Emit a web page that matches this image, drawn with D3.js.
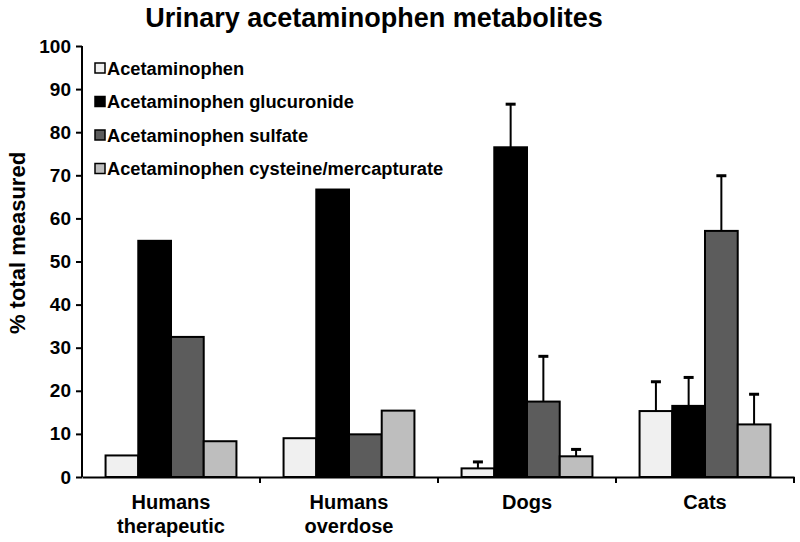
<!DOCTYPE html>
<html><head><meta charset="utf-8">
<script src="https://cdn.jsdelivr.net/npm/d3@7"></script>
<style>body{margin:0;background:#fff}svg{display:block}text{font-family:"Liberation Sans",Arial,sans-serif;font-weight:bold}</style>
</head><body><svg id="c" width="800" height="542"></svg>
<script>
const categories = [["Humans","therapeutic"],["Humans","overdose"],["Dogs"],["Cats"]];
const seriesNames = ["Acetaminophen","Acetaminophen glucuronide","Acetaminophen sulfate","Acetaminophen cysteine/mercapturate"];
const seriesColors = ["#f0f0f0","#000000","#5c5c5c","#bebebe"];
const acetaminophen = [5, 9, 2, 15.3];
const glucuronide = [54.8, 66.7, 76.5, 16.5];
const sulfate = [32.5, 9.9, 17.5, 57.1];
const cysteine = [8.3, 15.4, 4.8, 12.2];
const errAcetaminophen = [null, null, 1.5, 6.8];
const errGlucuronide = [null, null, 10, 6.6];
const errSulfate = [null, null, 10.5, 12.8];
const errCysteine = [null, null, 1.6, 7];
const yTicks = [0,10,20,30,40,50,60,70,80,90,100];

(function(){
const values = [acetaminophen, glucuronide, sulfate, cysteine];
const errors = [errAcetaminophen, errGlucuronide, errSulfate, errCysteine];
const catKeys = categories.map(c => c.join(" "));

const svg = d3.select("#c");
const mLeft = 82, mRight = 794, mTop = 46, mBottom = 477;
const x0 = d3.scaleBand().domain(catKeys).range([mLeft, mRight]).paddingInner(0).paddingOuter(0);
const x1 = d3.scaleBand().domain(seriesNames).range([0, x0.bandwidth()]).paddingInner(0).paddingOuter(0.72);
const y = d3.scaleLinear().domain([0,100]).range([mBottom, mTop]);

svg.append("text").attr("x", 374).attr("y", 27).attr("text-anchor","middle")
  .style("font-size","27px").text("Urinary acetaminophen metabolites");

svg.append("text").attr("transform","translate(25,243) rotate(-90)").attr("text-anchor","middle")
  .style("font-size","22px").text("% total measured");

// y axis
const ya = svg.append("g").attr("transform",`translate(${mLeft},0)`)
  .call(d3.axisLeft(y).tickValues(yTicks).tickSize(6).tickPadding(5));
ya.select(".domain").attr("stroke","#000").attr("stroke-width",2).attr("d",`M0,${mTop}V${mBottom}`);
ya.selectAll(".tick line").attr("stroke","#000").attr("stroke-width",2);
ya.selectAll(".tick text").style("font-size","19px").style("font-family","Liberation Sans, Arial, sans-serif").style("font-weight","bold").attr("fill","#000");

// bars
const groups = svg.append("g").selectAll("g").data(catKeys).join("g")
  .attr("transform", d => `translate(${x0(d)},0)`);
seriesNames.forEach((s, si) => {
  groups.append("rect")
    .attr("x", x1(s)).attr("width", x1.bandwidth())
    .attr("y", (d,i) => y(values[si][i])).attr("height", (d,i) => y(0) - y(values[si][i]))
    .attr("fill", seriesColors[si]).attr("stroke","#000").attr("stroke-width",2);
  groups.each(function(d,i){
    const e = errors[si][i];
    if (e == null) return;
    const cx = x1(s) + x1.bandwidth()/2;
    const g = d3.select(this);
    g.append("line").attr("x1",cx).attr("x2",cx).attr("y1",y(values[si][i])).attr("y2",y(values[si][i]+e))
      .attr("stroke","#000").attr("stroke-width",2);
    g.append("line").attr("x1",cx-5).attr("x2",cx+5).attr("y1",y(values[si][i]+e)).attr("y2",y(values[si][i]+e))
      .attr("stroke","#000").attr("stroke-width",3);
  });
});

// x axis
const xa = svg.append("g").attr("transform",`translate(0,${mBottom})`)
  .call(d3.axisBottom(x0).tickSize(0).tickFormat(""));
xa.select(".domain").attr("stroke","#000").attr("stroke-width",2);
svg.append("g").selectAll("line").data(catKeys).join("line")
  .attr("x1", d => x0(d) + x0.bandwidth()).attr("x2", d => x0(d) + x0.bandwidth())
  .attr("y1", mBottom).attr("y2", mBottom + 6).attr("stroke","#000").attr("stroke-width",2);
const lab = svg.append("g").selectAll("text").data(categories).join("text")
  .attr("x", (d,i) => x0(catKeys[i]) + x0.bandwidth()/2)
  .attr("y", 509).attr("text-anchor","middle").style("font-size","20px");
lab.each(function(d){
  const xx = d3.select(this).attr("x");
  d3.select(this).selectAll("tspan").data(d).join("tspan")
    .attr("x", xx).attr("dy",(t,j)=> j===0 ? 0 : 24).text(t=>t);
});

// legend
const leg = svg.append("g").selectAll("g").data(seriesNames).join("g")
  .attr("transform", (d,i) => `translate(95,${68 + i*33.5})`);
leg.append("rect").attr("x",0).attr("y",-5).attr("width",10).attr("height",10)
  .attr("fill",(d,i)=>seriesColors[i]).attr("stroke","#000").attr("stroke-width",1.5);
leg.append("text").attr("x",12).attr("y",6.5).style("font-size","18.3px").text(d=>d);
})();
</script></body></html>
